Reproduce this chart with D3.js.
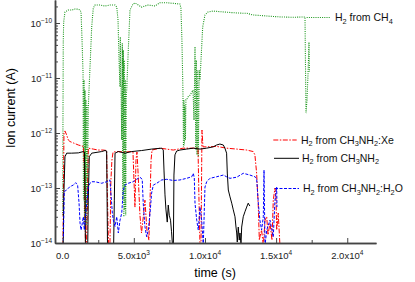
<!DOCTYPE html>
<html>
<head>
<meta charset="utf-8">
<script src="https://cdn.jsdelivr.net/npm/d3@7"></script>
<style>
body { margin: 0; background: #fff; }
svg { display: block; font-family: Arial, "Liberation Sans", sans-serif; }
</style>
</head>
<body>
<svg width="415" height="282"></svg>
<script>
'use strict';

// [time (s), ion current (A)]
var ch4Data = [[0, 3.2e-14], [20, 1.7e-12], [40, 4.5e-11], [70, 1.04e-10], [160, 1.58e-10], [390, 1.72e-10],
  [650, 1.72e-10], [860, 1.8e-10], [1100, 1.78e-10], [1220, 1.72e-10], [1290, 1.58e-10], [1360, 4.9e-11],
  [1430, 1.23e-11], [1460, 6e-14], [1500, 9.2e-12], [1530, 1.95e-14], [1570, 6e-12], [1600, 2.6e-14],
  [1640, 4e-12], [1670, 2.1e-14], [1710, 3.2e-12], [1740, 4e-14], [1800, 3e-12], [1920, 1.58e-11],
  [2040, 8.5e-11], [2150, 1.87e-10], [2270, 2.12e-10], [2620, 2.12e-10], [2970, 2.04e-10], [3320, 2.12e-10],
  [3680, 2.12e-10], [3800, 1.95e-10], [3890, 1.13e-10], [3960, 2.1e-11], [4030, 6.9e-12], [4050, 5.6e-11],
  [4080, 7.5e-12], [4100, 6.9e-12], [4150, 7.5e-13], [4190, 4.3e-11], [4220, 6e-14], [4260, 3.2e-11],
  [4300, 3e-14], [4330, 2.1e-11], [4370, 4e-14], [4400, 9.2e-12], [4430, 3.2e-14], [4470, 4.9e-12],
  [4500, 6e-12], [4610, 3.2e-11], [4730, 1.72e-10], [4940, 2.21e-10], [5080, 2.31e-10], [5550, 1.95e-10],
  [5990, 2.12e-10], [6490, 2.04e-10], [6840, 2.34e-10], [7310, 2.34e-10], [7750, 2.28e-10], [8240, 2.21e-10],
  [8310, 1.87e-10], [8380, 4.9e-11], [8450, 6e-12], [8490, 5.6e-13], [8520, 4e-12], [8560, 6e-13],
  [8590, 3.2e-12], [8630, 7.5e-13], [8660, 4e-12], [8710, 4e-12], [8800, 4.5e-12], [8950, 4.9e-12],
  [9160, 6e-12], [9230, 1.72e-12], [9300, 3.7e-11], [9350, 4.9e-13], [9390, 2.1e-11], [9440, 4e-13],
  [9490, 1.4e-11], [9530, 3.7e-13], [9600, 1.4e-11], [9650, 9.2e-12], [9840, 8.5e-11], [10000, 1.4e-10],
  [10210, 1.58e-10], [10560, 1.65e-10], [11050, 1.61e-10], [11550, 1.57e-10], [12250, 1.52e-10],
  [12950, 1.5e-10], [13370, 1.4e-10], [14360, 1.34e-10], [15270, 1.29e-10], [16180, 1.27e-10],
  [17030, 1.29e-10], [17060, 2.1e-11], [17100, 2.3e-12], [17170, 4e-12], [17240, 1.13e-11],
  [17310, 4.5e-11], [17340, 1.29e-11]];

var xeData = [[20, 9e-15], [60, 1.4e-13], [90, 1e-12], [160, 1.09e-12], [280, 9.2e-13], [390, 7.5e-13],
  [510, 7e-13], [750, 6.6e-13], [1100, 6.05e-13], [1450, 5.7e-13], [1530, 2.12e-13], [1600, 9e-15],
  [1670, 9e-15], [1740, 6e-14], [1800, 5.3e-13], [2150, 5.1e-13], [2500, 4.9e-13], [2850, 4.9e-13],
  [3090, 4.8e-13], [3150, 6e-14], [3220, 9e-15], [3320, 9e-15], [3390, 1.4e-13], [3460, 3.2e-13],
  [3540, 4.5e-13], [3890, 4.6e-13], [4380, 4.5e-13], [4800, 4.6e-13], [4940, 4.5e-13], [5010, 1.4e-13],
  [5080, 4.5e-14], [5150, 3.2e-13], [5220, 4.5e-13], [5290, 2.12e-13], [5430, 3.2e-14], [5540, 1.52e-14],
  [5640, 2.6e-14], [5780, 6e-14], [5920, 1.72e-14], [6060, 1.13e-14], [6140, 6e-14], [6210, 3.2e-13],
  [6280, 4.9e-13], [6840, 5.3e-13], [7770, 4.9e-13], [8470, 5.3e-13], [9180, 5.3e-13], [9510, 5.3e-13],
  [9580, 6e-14], [9650, 9e-15], [9720, 9e-15], [9790, 1.13e-12], [9860, 5.6e-13], [10120, 5.6e-13],
  [10820, 5.7e-13], [11520, 5.3e-13], [12230, 5.1e-13], [12930, 4.9e-13], [13390, 4.6e-13], [13510, 4e-13],
  [13630, 1.87e-13], [13750, 4.5e-14], [13820, 1.13e-14], [13860, 1.29e-14], [13980, 1.72e-14],
  [14100, 9e-15], [14220, 2.6e-14], [14340, 3e-14], [14430, 1.4e-14], [14570, 2.3e-14], [14710, 1.13e-14],
  [14800, 6e-14], [14920, 1e-13], [14990, 6.9e-14], [15040, 1.72e-14], [15150, 3.5e-14], [15270, 9e-15]];

var amineData = [[40, 9e-15], [70, 6e-14], [160, 3.7e-13], [280, 4.3e-13], [630, 4.3e-13], [1100, 4.35e-13],
  [1450, 4.6e-13], [1530, 4.5e-13], [1570, 6e-14], [1600, 9e-15], [1760, 9e-15], [1800, 6e-14],
  [1870, 3.7e-13], [2040, 4.3e-13], [2740, 4.6e-13], [2970, 4.8e-13], [3090, 4.7e-13], [3150, 9e-15],
  [3580, 9e-15], [3630, 6e-14], [3680, 4.3e-13], [3910, 4.6e-13], [4380, 4.3e-13], [4850, 4.6e-13],
  [5550, 4.8e-13], [6250, 5.1e-13], [6960, 5.3e-13], [7070, 4.9e-13], [7120, 2.12e-13], [7190, 7.5e-14],
  [7260, 4e-14], [7350, 2.4e-14], [7420, 4.9e-14], [7490, 3.2e-14], [7580, 2.6e-14], [7650, 1.6e-14],
  [7720, 9e-15], [7780, 9e-15], [7820, 1.72e-13], [7890, 4e-13], [8010, 4.7e-13], [8240, 4.9e-13],
  [8710, 5.1e-13], [9180, 5.3e-13], [9650, 5.1e-13], [10120, 5.3e-13], [10580, 5.6e-13], [10820, 6.05e-13],
  [11050, 6.3e-13], [11290, 6.05e-13], [11400, 5.3e-13], [11520, 4.3e-13], [11570, 1.87e-13],
  [11640, 9.2e-14], [11760, 6.9e-14], [11880, 5.3e-14], [11990, 4e-14], [12110, 3e-14], [12180, 1.95e-14],
  [12230, 1.52e-14], [12270, 1.04e-14], [12340, 1.95e-14], [12410, 1.13e-14], [12460, 1.52e-14],
  [12530, 9e-15], [12580, 1.95e-14], [12690, 3e-14], [12810, 3.7e-14], [12930, 4.5e-14], [13040, 5.3e-14],
  [13110, 4.9e-14], [13160, 4.7e-14]];

var waterData = [[40, 9e-15], [110, 8.6e-14], [280, 9.2e-14], [510, 1.06e-13], [750, 1.13e-13],
  [910, 1.25e-13], [1050, 1.13e-13], [1150, 5.3e-14], [1220, 2.3e-14], [1290, 1.72e-14], [1380, 2.3e-14],
  [1450, 3e-14], [1520, 1.72e-14], [1690, 5.3e-14], [1800, 1.06e-13], [1920, 1.22e-13], [2040, 1.3e-13],
  [2270, 1.3e-13], [2740, 1.22e-13], [3090, 1.3e-13], [3320, 1.4e-13], [3390, 8.1e-14], [3490, 3.5e-14],
  [3560, 2.6e-14], [3680, 2e-14], [3800, 3e-14], [3910, 1.52e-14], [4030, 2.6e-14], [4150, 3.5e-14],
  [4260, 9.2e-14], [4380, 1.13e-13], [4610, 1.22e-13], [4960, 1.3e-13], [5200, 1.44e-13], [5430, 1.57e-13],
  [5590, 1.44e-13], [5660, 5.3e-14], [5780, 2e-14], [5900, 1.3e-14], [6020, 1.72e-14], [6140, 3.5e-14],
  [6250, 8.1e-14], [6370, 1.13e-13], [6610, 1.22e-13], [6960, 1.4e-13], [7310, 1.44e-13], [7770, 1.37e-13],
  [8240, 1.4e-13], [8710, 1.5e-13], [9070, 1.6e-13], [9180, 1.85e-13], [9250, 1.52e-13], [9300, 5.3e-14],
  [9420, 2.6e-14], [9530, 1.72e-14], [9650, 4.5e-14], [9770, 2.6e-14], [9880, 9e-15], [10000, 1.04e-13],
  [10120, 1.3e-13], [10350, 1.5e-13], [10820, 1.6e-13], [11290, 1.72e-13], [11520, 1.6e-13],
  [11760, 1.5e-13], [12230, 1.57e-13], [12690, 1.85e-13], [13160, 1.72e-13], [13510, 1.6e-13],
  [13630, 1.5e-13], [13750, 5.3e-14], [13860, 2.6e-14], [13980, 1.72e-14], [14100, 3e-14], [14150, 2.12e-13],
  [14220, 9e-15], [14340, 1.72e-14], [14570, 2.6e-14], [14800, 1.29e-14], [14920, 6e-14], [15040, 1.04e-13],
  [15060, 4.5e-14]];

var xMajorTicks = [0, 5000, 10000, 15000, 20000];
var xMinorTicks = [2500, 7500, 12500, 17500];
var yExponents = [-14, -13, -12, -11, -10];
var legendLabels = ['H_2 from CH_4', 'H_2 from CH_3NH_2:Xe', 'H_2 from CH_3NH_2', 'H_2 from CH_3NH_2:H_2O'];

var svg = d3.select('svg');
var plotLeft = 55, plotRight = 376, plotTop = 0, plotBottom = 243;

var x = d3.scaleLinear().domain([-540, 22020]).range([plotLeft, plotRight]);
var y = d3.scaleLog().domain([1e-14, 2.62e-10]).range([plotBottom, plotTop]);

svg.append('clipPath').attr('id', 'plot').append('rect')
  .attr('x', plotLeft).attr('y', plotTop).attr('width', plotRight - plotLeft).attr('height', plotBottom - plotTop);

//Series
var series = [
  { data: ch4Data, color: '#1a961a', dash: '1,1.2', width: 1.1 },
  { data: xeData, color: '#ff0000', dash: '5,1.5,1.5,1.5', width: 1 },
  { data: amineData, color: '#000000', dash: null, width: 1 },
  { data: waterData, color: '#0000ff', dash: '3,1.5', width: 1 }
];

var line = d3.line().x(function (d) { return x(d[0]); }).y(function (d) { return y(d[1]); });

var plot = svg.append('g').attr('clip-path', 'url(#plot)');
series.forEach(function (s) {
  plot.append('path').datum(s.data)
    .attr('fill', 'none').attr('stroke', s.color).attr('stroke-width', s.width)
    .attr('stroke-dasharray', s.dash).attr('d', line);
});

//Axes
var axisColor = '#444';

var yMinor = [];
yExponents.forEach(function (e) {
  for (var k = 2; k <= 9; k++) {
    var v = k * Math.pow(10, e);
    if (v <= y.domain()[1]) yMinor.push(v);
  }
});

var gy = svg.append('g').attr('transform', 'translate(' + plotLeft + ',0)');
gy.call(d3.axisLeft(y).tickValues(yMinor).tickSize(-3).tickFormat('').tickSizeOuter(0));
gy.append('g').call(d3.axisLeft(y).tickValues(yExponents.map(function (e) { return Math.pow(10, e); }))
  .tickSize(-5).tickFormat('').tickSizeOuter(0));

var gx = svg.append('g').attr('transform', 'translate(0,' + plotBottom + ')');
gx.call(d3.axisBottom(x).tickValues(xMinorTicks).tickSize(-3).tickFormat('').tickSizeOuter(0));
gx.append('g').call(d3.axisBottom(x).tickValues(xMajorTicks).tickSize(-5).tickFormat('').tickSizeOuter(0));

svg.selectAll('.domain').attr('stroke', axisColor).attr('stroke-width', 1.5);
svg.selectAll('.tick line').attr('stroke', axisColor).attr('stroke-width', 1);

// y tick labels with superscripts
yExponents.forEach(function (e) {
  var t = svg.append('text').attr('x', plotLeft - 3).attr('y', y(Math.pow(10, e)) + 3.5)
    .attr('text-anchor', 'end').style('font-size', '9.5px').attr('fill', '#222');
  t.append('tspan').text('10');
  t.append('tspan').attr('dy', -4).style('font-size', '6.5px').text(String(e).replace('-', '\u2212'));
});

// x tick labels
xMajorTicks.forEach(function (v) {
  var t = svg.append('text').attr('x', x(v)).attr('y', plotBottom + 16)
    .attr('text-anchor', 'middle').style('font-size', '9.5px').attr('fill', '#222');
  if (v === 0) { t.text('0.0'); return; }
  var ex = Math.floor(Math.log10(v));
  t.append('tspan').text((v / Math.pow(10, ex)).toFixed(1) + 'x10');
  t.append('tspan').attr('dy', -4).style('font-size', '6.5px').text(ex);
});

svg.append('text').attr('x', 215).attr('y', 277).attr('text-anchor', 'middle')
  .style('font-size', '12.5px').text('time (s)');
svg.append('text').attr('transform', 'translate(15,108) rotate(-90)').attr('text-anchor', 'middle')
  .style('font-size', '12.5px').text('Ion current (A)');

//Legend
function richText(sel, str, fs) {
  var parts = str.split(/_(\d)/);
  var shift = 0;
  parts.forEach(function (p, i) {
    if (!p) return;
    var sub = i % 2 === 1;
    var target = sub ? 2.5 : 0;
    sel.append('tspan').attr('dy', target - shift).style('font-size', (sub ? fs * 0.7 : fs) + 'px').text(p);
    shift = target;
  });
}

var legendItems = [
  { x1: 306.7, x2: 330, y: 17.5, tx: 335 },
  { x1: 273.3, x2: 296.7, y: 140, tx: 301 },
  { x1: 274, x2: 299, y: 158.3, tx: 302 },
  { x1: 275, x2: 299, y: 188.5, tx: 303 }
];

legendItems.forEach(function (it, i) {
  var s = series[i];
  svg.append('line').attr('x1', it.x1).attr('x2', it.x2).attr('y1', it.y).attr('y2', it.y)
    .attr('stroke', s.color).attr('stroke-width', s.width).attr('stroke-dasharray', s.dash);
  var t = svg.append('text').attr('x', it.tx).attr('y', it.y + 3.5).attr('fill', '#111');
  richText(t, legendLabels[i], 10.5);
});
</script>
</body>
</html>
